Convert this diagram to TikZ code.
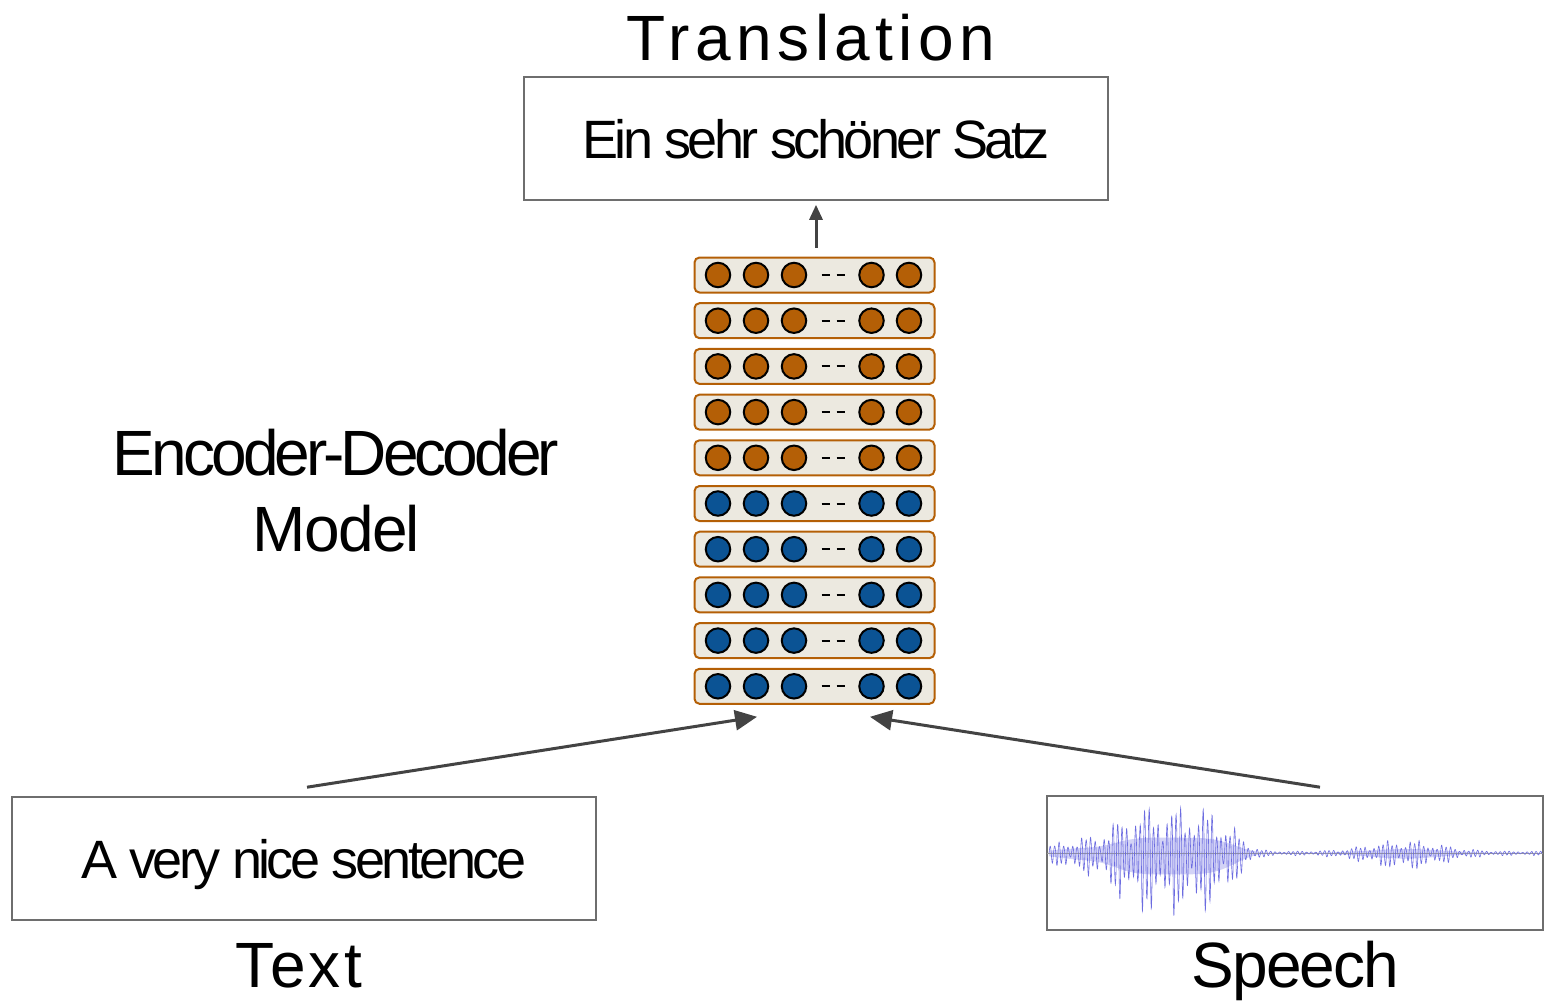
\documentclass[tikz,border=0pt]{standalone}
\usepackage{fontspec}
\setmainfont{Liberation Sans}
\usetikzlibrary{arrows.meta}

\definecolor{framegray}{HTML}{6E6E6E}
\definecolor{arrowgray}{HTML}{434343}
\definecolor{layerfill}{HTML}{ECE9E0}
\definecolor{layerline}{HTML}{B45F06}
\definecolor{unitorange}{HTML}{B45F06}
\definecolor{unitblue}{HTML}{0B5394}
\definecolor{wavecol}{HTML}{6C6CE0}

\begin{document}
\begin{tikzpicture}[x=1pt,y=-1pt,
  frame/.style={draw=framegray,line width=1.6pt,inner sep=0pt,text depth=0pt},
  layer/.style={draw=layerline,fill=layerfill,line width=2pt,rounded corners=5pt,
    minimum width=240pt,minimum height=35pt,inner sep=0pt},
  unit/.style={circle,draw=black,line width=2pt,minimum size=24.5pt,inner sep=0pt},
  dashes/.style={line width=2pt,dash pattern=on 8pt off 7pt},
  arr/.style={draw=arrowgray,line width=3pt,-{Triangle[length=22pt,width=20pt]}},
  big/.style={font=\fontsize{64}{70}\selectfont},
  mid/.style={font=\fontsize{54}{60}\selectfont\addfontfeature{LetterSpace=-6.6}},
  declare function={
    env(\t)=60*exp(-min(((\t-1175)/65)^2*((\t-1175)/65)^2,20))
      +18*exp(-min(((\t-1085)/40)^2,20))
      +15*exp(-min(((\t-1405)/50)^2,20))+2.5;
    osc(\t)=sin(80*mod(\t,4.5))*(0.6+0.25*sin(12*mod(\t,30))+0.15*sin(47*mod(\t,7.66)));}]
  \useasboundingbox (0,0) rectangle (1545,1001);

  % output side
  \node[big,anchor=base] (title) at (811,60) {\addfontfeature{LetterSpace=8.5}Translation};
  \node[frame,mid,minimum width=584pt,minimum height=123pt] (out) at (816,138.5) {Ein sehr schöner Satz};

  % stacked layers, encoder at the bottom
  \foreach \i in {1,...,10} {
    \pgfmathsetmacro\ly{686.3-45.7*(\i-1)}
    \ifnum\i>5 \def\ucol{unitorange}\else\def\ucol{unitblue}\fi
    \node[layer] (l\i) at (814.5,\ly) {};
    \foreach \j/\dx in {1/-96.5,2/-58.5,3/-20.5,4/57,5/94.5}
      \node[unit,fill=\ucol] (u\i-\j) at ([xshift=\dx pt]l\i.center) {};
    \draw[dashes] ([xshift=7pt]l\i.center) -- ([xshift=31pt]l\i.center);
  }
  \node[big,anchor=base,font=\fontsize{64}{70}\selectfont\addfontfeature{LetterSpace=-6.2}] (encdec) at (336,475) {Encoder-Decoder};
  \node[big,anchor=base,font=\fontsize{64}{70}\selectfont\addfontfeature{LetterSpace=-2.7}] (model) at (336.5,551) {Model};

  % inputs
  \node[frame,mid,minimum width=584pt,minimum height=123pt] (txt) at (304,858.5) {A very nice sentence};
  \node[big,anchor=base,font=\fontsize{64}{70}\selectfont\addfontfeature{LetterSpace=5}] (txtlab) at (298.5,987) {Text};
  \node[frame,minimum width=496pt,minimum height=134pt] (sp) at (1295,863) {};
  \node[big,anchor=base,font=\fontsize{64}{70}\selectfont\addfontfeature{LetterSpace=-3}] (splab) at (1295.5,987) {Speech};

  % waveform
  \begin{scope}
    \clip ([xshift=1pt,yshift=-1pt]sp.north west) rectangle ([xshift=-1pt,yshift=1pt]sp.south east);
    \fill[wavecol!55,opacity=0.55] plot[domain=1049:1542,samples=300,variable=\t]
      (\t,{853-0.25*(env(\t)-1.5)}) -- plot[domain=1542:1049,samples=300,variable=\t]
      (\t,{853+0.35*(env(\t)-1.5)}) -- cycle;
    \draw[gray!80,line width=0.8pt] ([yshift=10pt]sp.west) -- ([yshift=10pt]sp.east);
    \draw[wavecol,line width=0.6pt] plot[domain=0:493,samples=2200,variable=\t]
      ({1049+\t},{853-env(1049+\t)*(0.925*osc(\t)-0.125*abs(osc(\t)))});
  \end{scope}

  % arrows
  \coordinate (inL) at ([xshift=-57.5pt,yshift=-12pt]l1.south);
  \coordinate (inR) at ([xshift=55.5pt,yshift=-12pt]l1.south);
  \draw[arr] ([xshift=3pt,yshift=9pt]txt.north) -- (inL);
  \draw[arr] ([xshift=25pt,yshift=8pt]sp.north) -- (inR);
  \draw[arr,-{Triangle[length=15pt,width=13pt]},shorten <=9pt,shorten >=4pt]
    ([xshift=1.5pt]l10.north) -- (out.south);
\end{tikzpicture}
\end{document}
